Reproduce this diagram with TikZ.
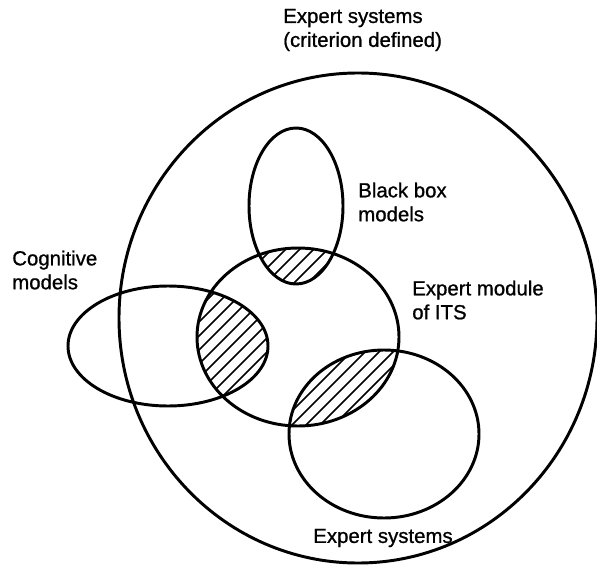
\documentclass[tikz,border=0pt]{standalone}
\usepackage{fontspec}
\setmainfont{Liberation Sans}
\newfontfamily\lblfont{Liberation Sans}[FakeBold=0.9]
\usepackage{tikz}
\tikzset{
  every picture/.style={line join=round, line cap=round},
  venn/.style={line width=2.1pt},
  hatch/.style={line width=1.1pt},
  lbl/.style={anchor=west, align=left, inner sep=0pt, font=\lblfont\fontsize{14.5}{17}\selectfont},
}
\newcommand{\outerset}{(358,318) ellipse [x radius=239, y radius=245]}
\newcommand{\moduleset}{(298,337) ellipse [x radius=101, y radius=89]}
\newcommand{\blackboxset}{(296,206) ellipse [x radius=47, y radius=78]}
\newcommand{\cognitiveset}{(168,346) ellipse [x radius=100, y radius=60]}
\newcommand{\systemsset}{(384,434) ellipse [x radius=95, y radius=84]}

\begin{document}
\begin{tikzpicture}[x=0.025cm,y=-0.025cm]
\useasboundingbox (0,0) rectangle (597,565);
% hatched overlaps with the expert module
\foreach \other in {\blackboxset,\cognitiveset,\systemsset}{
  \begin{scope}
    \clip \moduleset;
    \clip \other;
    \foreach \k in {-100,-86,...,260} \draw[hatch] (\k,565) -- ++(600,-600);
  \end{scope}
}
\draw[venn] \outerset;
\draw[venn] \moduleset;
\draw[venn] \blackboxset;
\draw[venn] \cognitiveset;
\draw[venn] \systemsset;
\node[lbl] (crit) at (283,30) {Expert systems\\(criterion defined)};
\node[lbl] (bbox) at (358,202) {Black box\\models};
\node[lbl] (cogn) at (12,270) {Cognitive\\models};
\node[lbl] (modl) at (412,300) {Expert module\\of ITS};
\node[lbl,anchor=center] (esys) at (383,538) {Expert systems};
\end{tikzpicture}
\end{document}
